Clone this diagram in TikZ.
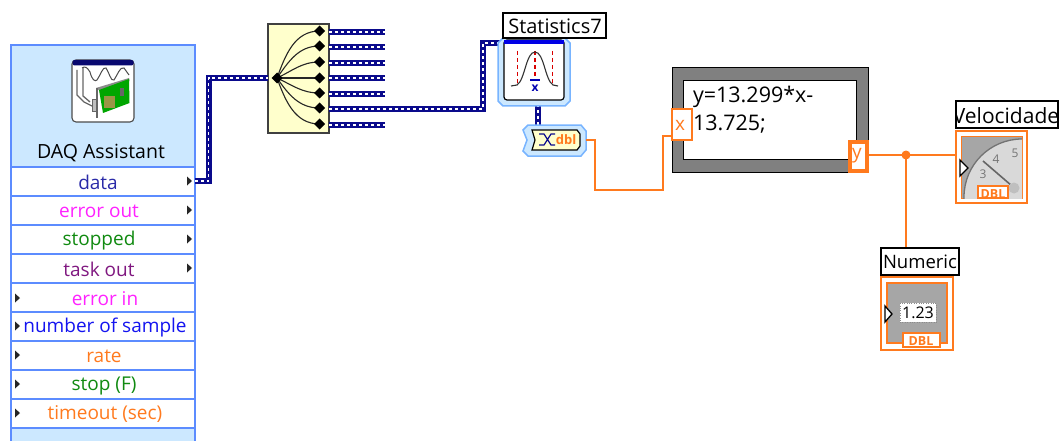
\documentclass[tikz,border=0pt]{standalone}
\usepackage{fontspec}
\setmainfont{Open Sans}
\usetikzlibrary{calc}
\definecolor{lvblue}{HTML}{5C8CFF}
\definecolor{lvhead}{HTML}{CCE8FF}
\definecolor{lvwire}{HTML}{0A0A8C}
\definecolor{lvorange}{HTML}{FF7A1E}
\definecolor{lvcream}{HTML}{FFFFCC}
\definecolor{lvgray}{HTML}{808080}
\definecolor{lvring}{HTML}{78B4FF}
\definecolor{lvmag}{HTML}{FF22FF}
\definecolor{lvgreen}{HTML}{108A10}
\definecolor{lvpurple}{HTML}{801880}
\definecolor{lvnum}{HTML}{1414F0}
\definecolor{lvdata}{HTML}{2A2AA8}
\tikzset{
 every node/.style={inner sep=0pt,outer sep=0pt},
 bx/.style={anchor=north west,rectangle},
 rowbox/.style={bx,draw=lvblue,line width=1.3pt,fill=white,minimum width=184pt,minimum height=29pt},
 rowtext/.style={font=\fontsize{19}{20}\selectfont,anchor=center},
 tagbox/.style={bx,draw=black,line width=1.3pt,fill=white},
 tagtext/.style={font=\fontsize{20}{21}\selectfont,anchor=center},
 orangebox/.style={bx,draw=lvorange,line width=1.5pt},
 wirebase/.style={draw=lvwire,line width=6pt,line join=miter},
 wiredash/.style={draw=white,line width=1.5pt,dash pattern=on 3pt off 3pt},
 owire/.style={draw=lvorange,line width=1.5pt},
 ppin/.style={fill=black!85,draw=none},
 dot/.style={fill=black,draw=none},
 arc/.style={draw=black!85,line width=1.1pt},
}
\newcommand{\bluewire}[1]{\draw[wirebase] #1; \draw[wiredash] #1;}
\newcommand{\outpin}[1]{\fill[ppin] (187,#1-4.5) -- (192,#1) -- (187,#1+4.5) -- cycle;}
\newcommand{\inpin}[1]{\fill[ppin] (15,#1-4.5) -- (20,#1) -- (15,#1+4.5) -- cycle;}
\begin{document}
\begin{tikzpicture}[x=1pt,y=-1pt]
\useasboundingbox (0,0) rectangle (1059,441);
\begin{scope}
\clip (0,0) rectangle (1059,441);
% DAQ Assistant
\node[bx,draw=lvblue,line width=1.5pt,fill=lvhead,minimum width=184pt,minimum height=410pt] (daq) at (11,45) {};
\node[rowbox] (rdata) at (11,167) {};
\node[rowbox] (rerrout) at (11,196) {};
\node[rowbox] (rstopped) at (11,225) {};
\node[rowbox] (rtask) at (11,254) {};
\node[rowbox] (rerrin) at (11,283) {};
\node[rowbox] (rnum) at (11,312) {};
\node[rowbox] (rrate) at (11,341) {};
\node[rowbox] (rstop) at (11,370) {};
\node[rowbox] (rtime) at (11,399) {};
\end{scope}
\node[font=\fontsize{19.5}{20}\selectfont] (daqt) at (101,153) {DAQ Assistant};
\node[rowtext,text=lvdata] (tdata) at (98,182.5) {data};
\node[rowtext,text=lvmag] (terrout) at (99,211.5) {error out};
\node[rowtext,text=lvgreen] (tstopped) at (99,240.5) {stopped};
\node[rowtext,text=lvpurple] (ttask) at (99,269.5) {task out};
\node[rowtext,text=lvmag] (terrin) at (105,298.5) {error in};
\node[rowtext,text=lvnum] (tnum) at (105,327.5) {number of sample};
\node[rowtext,text=lvorange] (trate) at (104,356.5) {rate};
\node[rowtext,text=lvgreen] (tstop) at (104,385.5) {stop (F)};
\node[rowtext,text=lvorange] (ttime) at (105,414.5) {timeout (sec)};
\outpin{181}\outpin{210}\outpin{239}\outpin{268}
\inpin{298}\inpin{326}\inpin{355}\inpin{384}\inpin{413}
% DAQ icon
\node[bx,draw=black!70,line width=1.1pt,rounded corners=4pt,fill=white,minimum width=62pt,minimum height=62pt] (icon) at (72,60) {};
\fill[lvwire!80!black,rounded corners=2pt] (72.5,60) rectangle (133.5,65.5);
\draw[black!70,line width=1pt] (82,68) .. controls (85,66) and (87,67) .. (90,72) .. controls (92,80) and (95,82) .. (97,80) .. controls (100,76) and (103,66) .. (106,68) .. controls (109,72) and (111,82) .. (114,80) .. controls (117,76) and (120,66) .. (124,68) -- (129,75);
\draw[black!60,line width=1.3pt] (77,70) -- (77,95) -- (84,102) -- (92,106);
\draw[black!60,line width=1.3pt] (83,68) -- (83,96) -- (90,102);
\fill[black!45] (96,88) -- (129,78) -- (129.5,81) -- (100,91) -- cycle;
\fill[green!65!black] (99,90) -- (129,79) -- (129.5,103) -- (103,113) -- cycle;
\fill[yellow!55!black] (104,96) rectangle (115,108);
\fill[black!60] (124,88) rectangle (120,96);
\draw[black!60,fill=black!25,line width=1pt] (92,100) rectangle (97,112);
\draw[black!60,line width=1.4pt] (97,88) -- (97,118);
% Splitter
\node[bx,draw=black!75,line width=1.3pt,fill=lvcream,minimum width=61pt,minimum height=109pt] (split) at (268,24) {};
\foreach \n/\y in {a/32,b/47,c/63,d/78,e/94,f/109,g/125}{
  \coordinate (o\n) at (329,\y);
  \coordinate (e\n) at (385,\y);
}
\coordinate (dataout) at (195,181);
\coordinate (bd1) at (208.5,181);
\coordinate (bd2) at (208.5,78);
\coordinate (splin) at (268,78);
\bluewire{(dataout) -- (bd1) -- (bd2) -- (splin)}
\bluewire{(oa) -- (ea)}
\bluewire{(ob) -- (eb)}
\bluewire{(oc) -- (ec)}
\bluewire{(od) -- (ed)}
\bluewire{(oe) -- (ee)}
\bluewire{(og) -- (eg)}
\coordinate (w1) at (483,109);
\coordinate (w2) at (483,43);
\coordinate (statin) at (500,43);
\bluewire{(of) -- (w1) -- (w2) -- (statin)}
\coordinate (lc) at (277,78);
\foreach \n/\y/\b in {a/31/70,b/46/55,c/62/25,d/78/0,e/93/-25,f/108/-55,g/124/-70}{
  \draw[arc] (lc) to[out=\b,in=180] (319.5,\y);
  \fill[dot] (319.5,\y-5.5) -- (325,\y) -- (319.5,\y+5.5) -- (314,\y) -- cycle;
}
\fill[dot] (277,72.5) -- (282.5,78) -- (277,83.5) -- (271.5,78) -- cycle;
% Statistics
\coordinate (st1) at (538,104);
\coordinate (st2) at (538,126);
\bluewire{(st1) -- (st2)}
\draw[lvring,line width=1.5pt,fill=lvhead] (503,38) -- (565,38) -- (570,43) -- (570,101) -- (565,106) -- (503,106) -- (498,101) -- (498,43) -- cycle;
\node[bx,draw=black,line width=1.2pt,fill=white,rounded corners=3pt,minimum width=60pt,minimum height=60pt] (statin2) at (504,40) {};
\fill[blue!90!black] (504,40) rectangle (564,44.5);
\draw[red!85!black,line width=1.2pt,dash pattern=on 4.5pt off 2.5pt] (517.5,51) -- (517.5,85);
\draw[red!85!black,line width=1.2pt,dash pattern=on 4.5pt off 2.5pt] (535,51) -- (535,78);
\draw[red!85!black,line width=1.2pt,dash pattern=on 4.5pt off 2.5pt] (552.5,51) -- (552.5,85);
\draw[black!80,line width=1.1pt] (511,86) -- (517,85) .. controls (525,80) and (526,52) .. (535,52) .. controls (544,52) and (545,80) .. (553,85) -- (558,86);
\draw[blue!70!black,line width=1.3pt] (530,80) -- (540,80);
\node[font=\bfseries\fontsize{12}{12}\selectfont,text=blue!70!black] (xbar) at (535,88) {x};
\node[tagbox,minimum width=103pt,minimum height=25pt] (statl) at (503,13) {};
\node[tagtext] (statt) at (555,26) {Statistics7};
% Convert
\draw[lvring,line width=1.5pt,fill=lvhead] (528,125) -- (581,125) -- (586,131) -- (586,150) -- (581,156) -- (528,156) -- (523,151) -- (527,140) -- (523,130) -- cycle;
\draw[black,line width=1.2pt,fill=lvcream] (532,130) -- (577,130) -- (580,134) -- (580,146) -- (577,150) -- (532,150) -- (535,140) -- cycle;
\draw[lvwire,line width=1.2pt] (539,134) -- (544,134) -- (551,145) -- (555,145) (539,145) -- (544,145) -- (551,134) -- (555,134);
\node[font=\bfseries\fontsize{13}{13}\selectfont,text=lvorange] (dbl1) at (566,140) {dbl};
% Formula node
\node[bx,draw=black,line width=1pt,fill=lvgray,minimum width=196pt,minimum height=104pt] (form) at (672,68) {};
\node[bx,draw=black,line width=1pt,fill=white,minimum width=173pt,minimum height=78pt] (forminner) at (683,81) {};
\node[anchor=west,font=\fontsize{21.5}{22}\selectfont] (f1) at (693,97) {y=13.299*x-};
\node[anchor=west,font=\fontsize{21.5}{22}\selectfont] (f2) at (693,124) {13.725;};
\node[bx,orangebox,fill=white,minimum width=20pt,minimum height=31pt] (tx) at (672,109) {};
\node[text=lvorange,font=\fontsize{19}{20}\selectfont] (txt) at (680,125) {x};
\node[bx,draw=lvorange,line width=4pt,fill=white,minimum width=17pt,minimum height=29pt] (ty) at (849.5,141.5) {};
\node[text=lvorange,font=\fontsize{19}{20}\selectfont] (tyt) at (857,156) {y};
% Orange wires
\coordinate (c1) at (595,140);
\coordinate (c2) at (595,190);
\coordinate (c3) at (663,190);
\coordinate (c4) at (663,136);
\draw[owire] (586,140) -- (c1) -- (c2) -- (c3) -- (c4) -- (tx.west |- c4);
\coordinate (junc) at (906,155);
\draw[owire] (ty.east |- junc) -- (junc) -- (956,155);
\draw[owire] (junc) -- (906,248);
\fill[lvorange] (junc) circle (4.5pt);
% Velocidade
\node[tagbox,minimum width=102pt,minimum height=27pt] (vell) at (956,101) {};
\begin{scope}
\clip (957,102) rectangle (1058,128);
\node[font=\fontsize{21}{22}\selectfont] (velt) at (1006,116) {Velocidade};
\end{scope}
\node[orangebox,fill=white,minimum width=71pt,minimum height=72pt] (vel) at (956,131) {};
\node[orangebox,fill=black!15,minimum width=60pt,minimum height=61pt] (velin) at (962,137) {};
\begin{scope}
\clip (962,137) rectangle (1022,198);
\fill[black!35] (962,137) rectangle (1022,198);
\fill[black!15] (1022,197) circle (58pt);
\draw[black!55,line width=1.3pt] (1022,197) circle (58pt);
\node[font=\fontsize{12}{12}\selectfont,text=black!55] (v5) at (1015,153) {5};
\node[font=\fontsize{12}{12}\selectfont,text=black!55] (v4) at (996,159) {4};
\node[font=\fontsize{12}{12}\selectfont,text=black!55] (v3) at (983,174) {3};
\draw[black!60,line width=1.6pt] (983,161) -- (1012,186);
\fill[black!25] (1014,188) circle (5.5pt);
\end{scope}
\node[orangebox,fill=white,minimum width=30pt,minimum height=12pt] (veltag) at (978,186) {};
\node[font=\bfseries\fontsize{12.5}{13}\selectfont,text=lvorange] (veld) at (993,194) {DBL};
\draw[black,line width=1.3pt,fill=white] (960,160) -- (968,168) -- (960,176) -- cycle;
% Numeric
\node[tagbox,minimum width=78pt,minimum height=27pt] (numl) at (881,248) {};
\node[font=\fontsize{18.5}{19}\selectfont] (numt) at (920,262) {Numeric};
\node[orangebox,fill=white,minimum width=72pt,minimum height=73pt] (numb) at (881,277) {};
\node[orangebox,fill=black!35,minimum width=60pt,minimum height=60pt] (numin) at (887,283) {};
\node[bx,draw=black!45,dotted,fill=white,minimum width=36pt,minimum height=19pt] (disp) at (900,303) {};
\node[font=\fontsize{16}{16}\selectfont] (numv) at (918,313) {1.23};
\node[orangebox,fill=white,minimum width=37pt,minimum height=14pt] (numtag) at (903,333) {};
\node[font=\bfseries\fontsize{12.5}{13}\selectfont,text=lvorange] (numd) at (921,341) {DBL};
\draw[black,line width=1.3pt,fill=white] (885,306) -- (892,314) -- (885,322) -- cycle;
\end{tikzpicture}
\end{document}
